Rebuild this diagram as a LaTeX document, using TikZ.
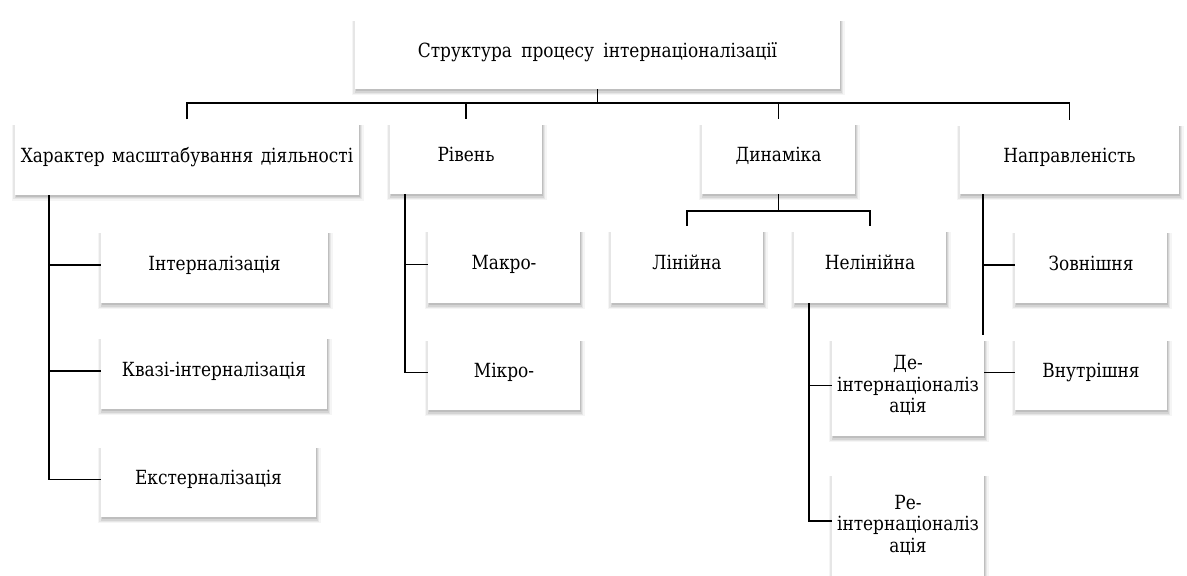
\documentclass[tikz,border=0pt]{standalone}
\usepackage{fontspec}
\setmainfont{DejaVu Serif}
\newfontfamily\boxfont{DejaVu Serif}[FakeStretch=0.87]
\pgfdeclarelayer{back}
\pgfdeclarelayer{bg}
\pgfsetlayers{back,bg,main}
\newcommand\boxshade[1]{%
  \foreach \r/\o in {0/0.10,1.2/0.08,2.4/0.06,3.6/0.04}{%
    \fill[black,opacity=\o] ([xshift=-\r pt+1pt, yshift=-6pt]#1.north west) rectangle ([xshift=\r pt+0.8pt, yshift=-2.2pt-\r pt]#1.south east);
  }}
\begin{document}
\begin{tikzpicture}[x=1pt,y=-1pt,
  box/.style={draw=none, fill=white, inner sep=2pt, align=center,
    font=\boxfont\fontsize{19.5}{21.5}\selectfont},
  one/.style={text height=14pt, text depth=4pt},
  conn/.style={draw=black, line width=1.9pt}]
\useasboundingbox (0,0) rectangle (1187,576);
\begin{pgfonlayer}{back}
\fill[white] (0,0) rectangle (1187,576);
\end{pgfonlayer}
\clip (0,0) rectangle (1187,576);

\node[box, one, minimum width=485pt, minimum height=74pt] (top) at (597.5,52) {Структура\hspace{0.2em} процесу\hspace{0.2em} інтернаціоналізації};

\node[box, one, minimum width=344pt, minimum height=75pt] (A) at (187,157) {Характер\hspace{0.1em} масштабування\hspace{0.1em} діяльності};
\node[box, one, minimum width=152pt, minimum height=75pt] (B) at (466,156.5) {Рівень};
\node[box, one, minimum width=153pt, minimum height=75pt] (C) at (778.5,156.5) {Динаміка};
\node[box, one, minimum width=219pt, minimum height=74pt] (D) at (1069.5,157) {Направленість};

\node[box, one, minimum width=227pt, minimum height=76pt] (A1) at (214.5,265) {Інтерналізація};
\node[box, one, minimum width=226pt, minimum height=76pt] (A2) at (214,371) {Квазі-інтерналізація};
\node[box, one, minimum width=215pt, minimum height=75pt] (A3) at (208.5,479.5) {Екстерналізація};

\node[box, one, minimum width=152pt, minimum height=77pt] (B1) at (504,264.5) {Макро-};
\node[box, one, minimum width=152pt, minimum height=75pt] (B2) at (504,372.5) {Мікро-};

\node[box, one, minimum width=152pt, minimum height=77pt] (C1) at (687,264.5) {Лінійна};
\node[box, one, minimum width=152pt, minimum height=77pt] (C2) at (870,264.5) {Нелінійна};
\node[box, minimum width=152pt, minimum height=101pt] (C21) at (908,385.5) {Де-\\інтернаціоналіз\\ація};
\node[box, minimum width=152pt, minimum height=110pt] (C22) at (908,525) {Ре-\\інтернаціоналіз\\ація};

\node[box, one, minimum width=152pt, minimum height=76pt] (D1) at (1091,265) {Зовнішня};
\node[box, one, minimum width=152pt, minimum height=75pt] (D2) at (1091,372.5) {Внутрішня};

\coordinate (bus) at (597.5,103);
\coordinate (cbus) at (778.5,211);
\coordinate (aX) at (49,0);
\coordinate (bX) at (405,0);
\coordinate (cX) at (809,0);
\coordinate (dX) at (983,0);
\coordinate (reY) at (0,521);

\begin{pgfonlayer}{back}
\foreach \n in {top,A,B,C,D,A1,A2,A3,B1,B2,C1,C2,C21,C22,D1,D2}{\boxshade{\n}}
\end{pgfonlayer}

\begin{pgfonlayer}{bg}
\draw[conn] (top.south) -- (bus);
\draw[conn] (A.north) -- (A.north |- bus) -- (D.north |- bus) -- (D.north);
\draw[conn] (B.north) -- (B.north |- bus);
\draw[conn] (C.north) -- (C.north |- bus);

\draw[conn] (aX |- A.south) |- (A3.west);
\draw[conn] (aX |- A1.west) -- (A1.west);
\draw[conn] (aX |- A2.west) -- (A2.west);

\draw[conn] (bX |- B.south) |- (B2.west);
\draw[conn] (bX |- B1.west) -- (B1.west);

\draw[conn] (C.south) -- (cbus);
\draw[conn] (C1.north) -- (C1.north |- cbus) -- (C2.north |- cbus) -- (C2.north);

\draw[conn] (cX |- C2.south) |- (C22.west |- reY);
\draw[conn] (cX |- C21.west) -- (C21.west);

\draw[conn] (dX |- D.south) |- (D2.west);
\draw[conn] (dX |- D1.west) -- (D1.west);
\end{pgfonlayer}
\end{tikzpicture}
\end{document}
